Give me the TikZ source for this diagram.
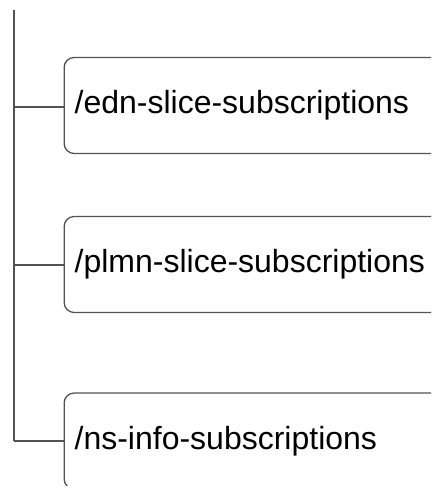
\documentclass[tikz,border=0pt]{standalone}
\usepackage{fontspec}
\setmainfont{Liberation Sans}
\begin{document}
\begin{tikzpicture}[x=1pt,y=-1pt,
  line/.style={draw=black!68,line width=1.3pt},
  leaf/.style={line,rounded corners=10pt,anchor=west,minimum height=96pt,
    text width=380pt,inner xsep=10.5pt,align=left,
    font=\fontsize{32}{36}\selectfont},
]
\useasboundingbox (0,0) rectangle (431,486);
\clip (0,0) rectangle (431,486);
\coordinate (top) at (14,10);
\node[leaf] (a) at (63.5,105.5) {/edn-slice-subscriptions};
\node[leaf] (b) at (63.5,264.5) {/plmn-slice-subscriptions};
\node[leaf] (c) at (63.5,441) {/ns-info-subscriptions};
\coordinate (ta) at (14,107);
\coordinate (tb) at (14,265);
\coordinate (tc) at (14,441);
\draw[line] (top) -- (tc);
\draw[line] (ta) -- (ta -| a.west);
\draw[line] (tb) -- (tb -| b.west);
\draw[line] (tc) -- (tc -| c.west);
\end{tikzpicture}
\end{document}
